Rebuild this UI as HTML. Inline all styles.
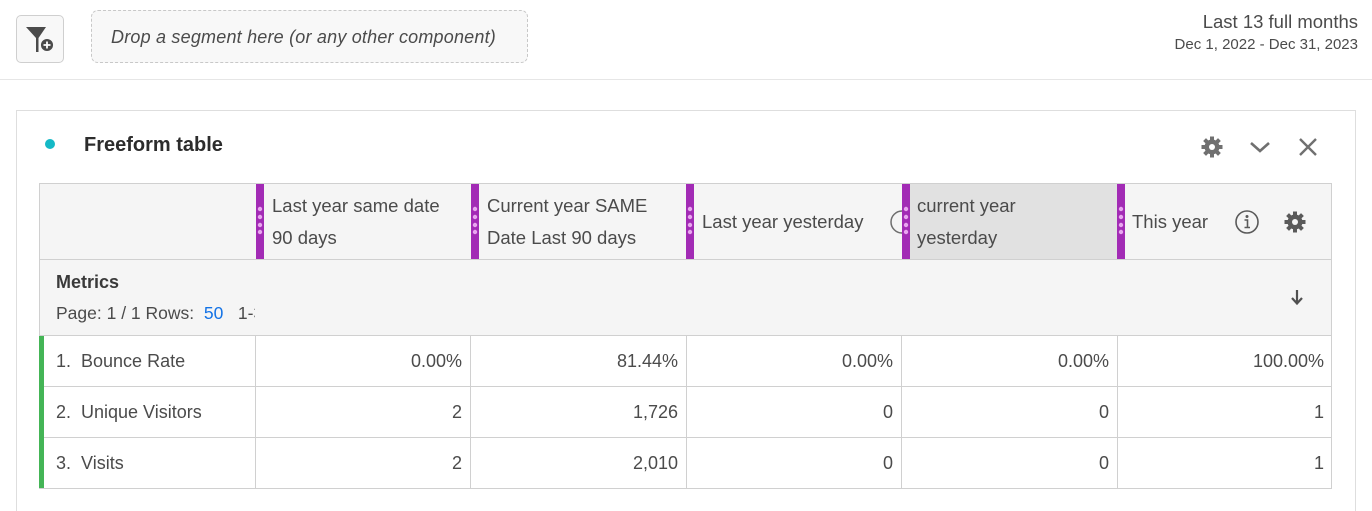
<!DOCTYPE html>
<html style="width:1372px;height:511px;overflow:hidden;"><head><meta charset="utf-8">
<style>
*{margin:0;padding:0;box-sizing:border-box;}
html,body{width:1372px;height:511px;overflow:hidden;}
body{background:#fff;font-family:"Liberation Sans",sans-serif;color:#4b4b4b;position:relative;}
.a{position:absolute;white-space:nowrap;}
.hdr{font-size:18.5px;color:#4b4b4b;line-height:32px;}
.num{font-size:18px;color:#4b4b4b;text-align:right;width:200px;line-height:20px;}
.lbl{font-size:18px;color:#4b4b4b;line-height:20px;}
.bar{position:absolute;top:184px;width:8px;height:75px;background:#a22bb5;}
.vl{position:absolute;width:1px;background:#d0d0d0;}
.hl{position:absolute;height:1px;background:#d0d0d0;}
</style></head><body>

<!-- top bar -->
<div class="a" style="left:16px;top:15px;width:48px;height:48px;border:1px solid #cfcfcf;border-radius:5px;background:#f8f8f8;"></div>
<svg class="a" style="left:20px;top:20px;" width="40" height="40" viewBox="0 0 40 40">
<path d="M6 7 H26 L18.5 18 V32 H16 V18 Z" fill="#4b4b4b"/>
<circle cx="27" cy="25" r="6.8" fill="#4b4b4b" stroke="#f8f8f8" stroke-width="1.5"/>
<path d="M27 21.5 V28.5 M23.5 25 H30.5" stroke="#fff" stroke-width="1.8"/>
</svg>
<div class="a" style="left:91px;top:10px;width:437px;height:53px;border:1px dashed #c8c8c8;border-radius:7px;background:#f8f8f8;"></div>
<div class="a" style="left:111px;top:26px;font-size:18px;font-style:italic;color:#4b4b4b;line-height:22px;letter-spacing:0.2px;">Drop a segment here (or any other component)</div>

<div class="a" style="right:14px;top:11px;font-size:18.5px;color:#4b4b4b;line-height:22px;text-align:right;">Last 13 full months</div>
<div class="a" style="right:14px;top:36px;font-size:15px;color:#4b4b4b;line-height:18px;text-align:right;">Dec 1, 2022 - Dec 31, 2023</div>

<div class="a" style="left:0;top:79px;width:1372px;height:1px;background:#e6e6e6;"></div>

<!-- panel -->
<div class="a" style="left:16px;top:110px;width:1340px;height:410px;border:1px solid #dedede;"></div>
<div class="a" style="left:45px;top:139px;width:10px;height:10px;border-radius:50%;background:#15b9c6;"></div>
<div class="a" style="left:84px;top:133px;font-size:20px;font-weight:bold;color:#2c2c2c;line-height:24px;">Freeform table</div>

<svg class="a" style="left:1200px;top:135px;" width="24" height="24" viewBox="0 0 24 24">
<g fill="#707070">
<circle cx="12" cy="12" r="7.5"/>
<rect x="10" y="1.5" width="4" height="5"/>
<rect x="10" y="17.5" width="4" height="5"/>
<rect x="1.5" y="10" width="5" height="4"/>
<rect x="17.5" y="10" width="5" height="4"/>
<rect x="10" y="1.5" width="4" height="5" transform="rotate(45 12 12)"/>
<rect x="10" y="17.5" width="4" height="5" transform="rotate(45 12 12)"/>
<rect x="1.5" y="10" width="5" height="4" transform="rotate(45 12 12)"/>
<rect x="17.5" y="10" width="5" height="4" transform="rotate(45 12 12)"/>
</g>
<circle cx="12" cy="12" r="3" fill="#fff"/>
</svg>
<svg class="a" style="left:1249px;top:140px;" width="22" height="14" viewBox="0 0 22 14">
<path d="M2 3 L11 11 L20 3" stroke="#707070" stroke-width="2.6" fill="none"/>
</svg>
<svg class="a" style="left:1298px;top:137px;" width="20" height="20" viewBox="0 0 20 20">
<path d="M2 2 L18 18 M18 2 L2 18" stroke="#707070" stroke-width="2.4"/>
</svg>

<!-- table backgrounds -->
<div class="a" style="left:39px;top:183px;width:1293px;height:152px;background:#f5f5f5;"></div>
<div class="a" style="left:909px;top:184px;width:208px;height:75px;background:#e1e1e1;"></div>
<div class="a" style="left:39px;top:335px;width:1293px;height:154px;background:#fff;"></div>

<!-- table borders -->
<div class="hl" style="left:39px;top:183px;width:1293px;"></div>
<div class="hl" style="left:39px;top:259px;width:1293px;"></div>
<div class="hl" style="left:39px;top:335px;width:1293px;"></div>
<div class="hl" style="left:39px;top:386px;width:1293px;"></div>
<div class="hl" style="left:39px;top:437px;width:1293px;"></div>
<div class="hl" style="left:39px;top:488px;width:1293px;"></div>
<div class="vl" style="left:39px;top:183px;height:306px;"></div>
<div class="vl" style="left:1331px;top:183px;height:306px;"></div>
<div class="vl" style="left:255px;top:335px;height:153px;"></div>
<div class="vl" style="left:470px;top:335px;height:153px;"></div>
<div class="vl" style="left:686px;top:335px;height:153px;"></div>
<div class="vl" style="left:901px;top:335px;height:153px;"></div>
<div class="vl" style="left:1117px;top:335px;height:153px;"></div>

<!-- purple bars -->
<div class="bar" style="left:256px;"></div>
<div class="bar" style="left:471px;"></div>
<div class="bar" style="left:686px;"></div>
<div class="bar" style="left:1117px;"></div>
<svg class="a" style="left:0;top:0;" width="1372" height="511">
<path d="M902 211 A11 11 0 0 0 902 233" stroke="#6e6e6e" stroke-width="1.5" fill="none"/>
<rect x="902" y="184" width="8" height="75" fill="#a22bb5"/>
<g fill="#e9a6f0">
<circle cx="260" cy="209" r="2.2"/><circle cx="260" cy="217" r="2.2"/><circle cx="260" cy="225" r="2.2"/><circle cx="260" cy="232" r="2.2"/>
<circle cx="475" cy="209" r="2.2"/><circle cx="475" cy="217" r="2.2"/><circle cx="475" cy="225" r="2.2"/><circle cx="475" cy="232" r="2.2"/>
<circle cx="690" cy="209" r="2.2"/><circle cx="690" cy="217" r="2.2"/><circle cx="690" cy="225" r="2.2"/><circle cx="690" cy="232" r="2.2"/>
<circle cx="906" cy="209" r="2.2"/><circle cx="906" cy="217" r="2.2"/><circle cx="906" cy="225" r="2.2"/><circle cx="906" cy="232" r="2.2"/>
<circle cx="1121" cy="209" r="2.2"/><circle cx="1121" cy="217" r="2.2"/><circle cx="1121" cy="225" r="2.2"/><circle cx="1121" cy="232" r="2.2"/>
</g>
<circle cx="1247" cy="222" r="11" stroke="#5a5a5a" stroke-width="1.6" fill="none"/>
<circle cx="1247" cy="216.5" r="1.5" fill="#5a5a5a"/>
<path d="M1244.5 220 H1247.5 V227 M1244.5 227.5 H1250" stroke="#5a5a5a" stroke-width="1.6" fill="none"/>
<g transform="translate(1283 210)" fill="#5a5a5a">
<circle cx="12" cy="12" r="7.5"/>
<rect x="10" y="1.5" width="4" height="5"/>
<rect x="10" y="17.5" width="4" height="5"/>
<rect x="1.5" y="10" width="5" height="4"/>
<rect x="17.5" y="10" width="5" height="4"/>
<rect x="10" y="1.5" width="4" height="5" transform="rotate(45 12 12)"/>
<rect x="10" y="17.5" width="4" height="5" transform="rotate(45 12 12)"/>
<rect x="1.5" y="10" width="5" height="4" transform="rotate(45 12 12)"/>
<rect x="17.5" y="10" width="5" height="4" transform="rotate(45 12 12)"/>
<circle cx="12" cy="12" r="3" fill="#f5f5f5"/>
</g>
<path d="M1297 290 V303 M1292 298 L1297 303.5 L1302 298" stroke="#505050" stroke-width="2.2" fill="none"/>
</svg>

<!-- header texts -->
<div class="a hdr" style="left:272px;top:190px;">Last year same date<br>90 days</div>
<div class="a hdr" style="left:487px;top:190px;">Current year SAME<br>Date Last 90 days</div>
<div class="a hdr" style="left:702px;top:206px;">Last year yesterday</div>
<div class="a hdr" style="left:917px;top:190px;">current year<br>yesterday</div>
<div class="a hdr" style="left:1132px;top:206px;">This year</div>

<!-- metrics row -->
<div class="a" style="left:56px;top:271px;font-size:18px;font-weight:bold;color:#3a3a3a;line-height:22px;">Metrics</div>
<div class="a" style="left:56px;top:302px;width:199px;overflow:hidden;font-size:17.5px;color:#4b4b4b;line-height:22px;">Page: 1 / 1 Rows:&nbsp; <span style="color:#1473e6;">50</span>&nbsp;&nbsp; 1-3</div>

<!-- green bars -->
<div class="a" style="left:39px;top:336px;width:5px;height:152px;background:#44b556;"></div>

<!-- data rows -->
<div class="a lbl" style="left:56px;top:351px;">1.&nbsp; Bounce Rate</div>
<div class="a lbl" style="left:56px;top:402px;">2.&nbsp; Unique Visitors</div>
<div class="a lbl" style="left:56px;top:453px;">3.&nbsp; Visits</div>

<div class="a num" style="left:262px;top:351px;">0.00%</div>
<div class="a num" style="left:478px;top:351px;">81.44%</div>
<div class="a num" style="left:693px;top:351px;">0.00%</div>
<div class="a num" style="left:909px;top:351px;">0.00%</div>
<div class="a num" style="left:1124px;top:351px;">100.00%</div>

<div class="a num" style="left:262px;top:402px;">2</div>
<div class="a num" style="left:478px;top:402px;">1,726</div>
<div class="a num" style="left:693px;top:402px;">0</div>
<div class="a num" style="left:909px;top:402px;">0</div>
<div class="a num" style="left:1124px;top:402px;">1</div>

<div class="a num" style="left:262px;top:453px;">2</div>
<div class="a num" style="left:478px;top:453px;">2,010</div>
<div class="a num" style="left:693px;top:453px;">0</div>
<div class="a num" style="left:909px;top:453px;">0</div>
<div class="a num" style="left:1124px;top:453px;">1</div>

</body></html>
